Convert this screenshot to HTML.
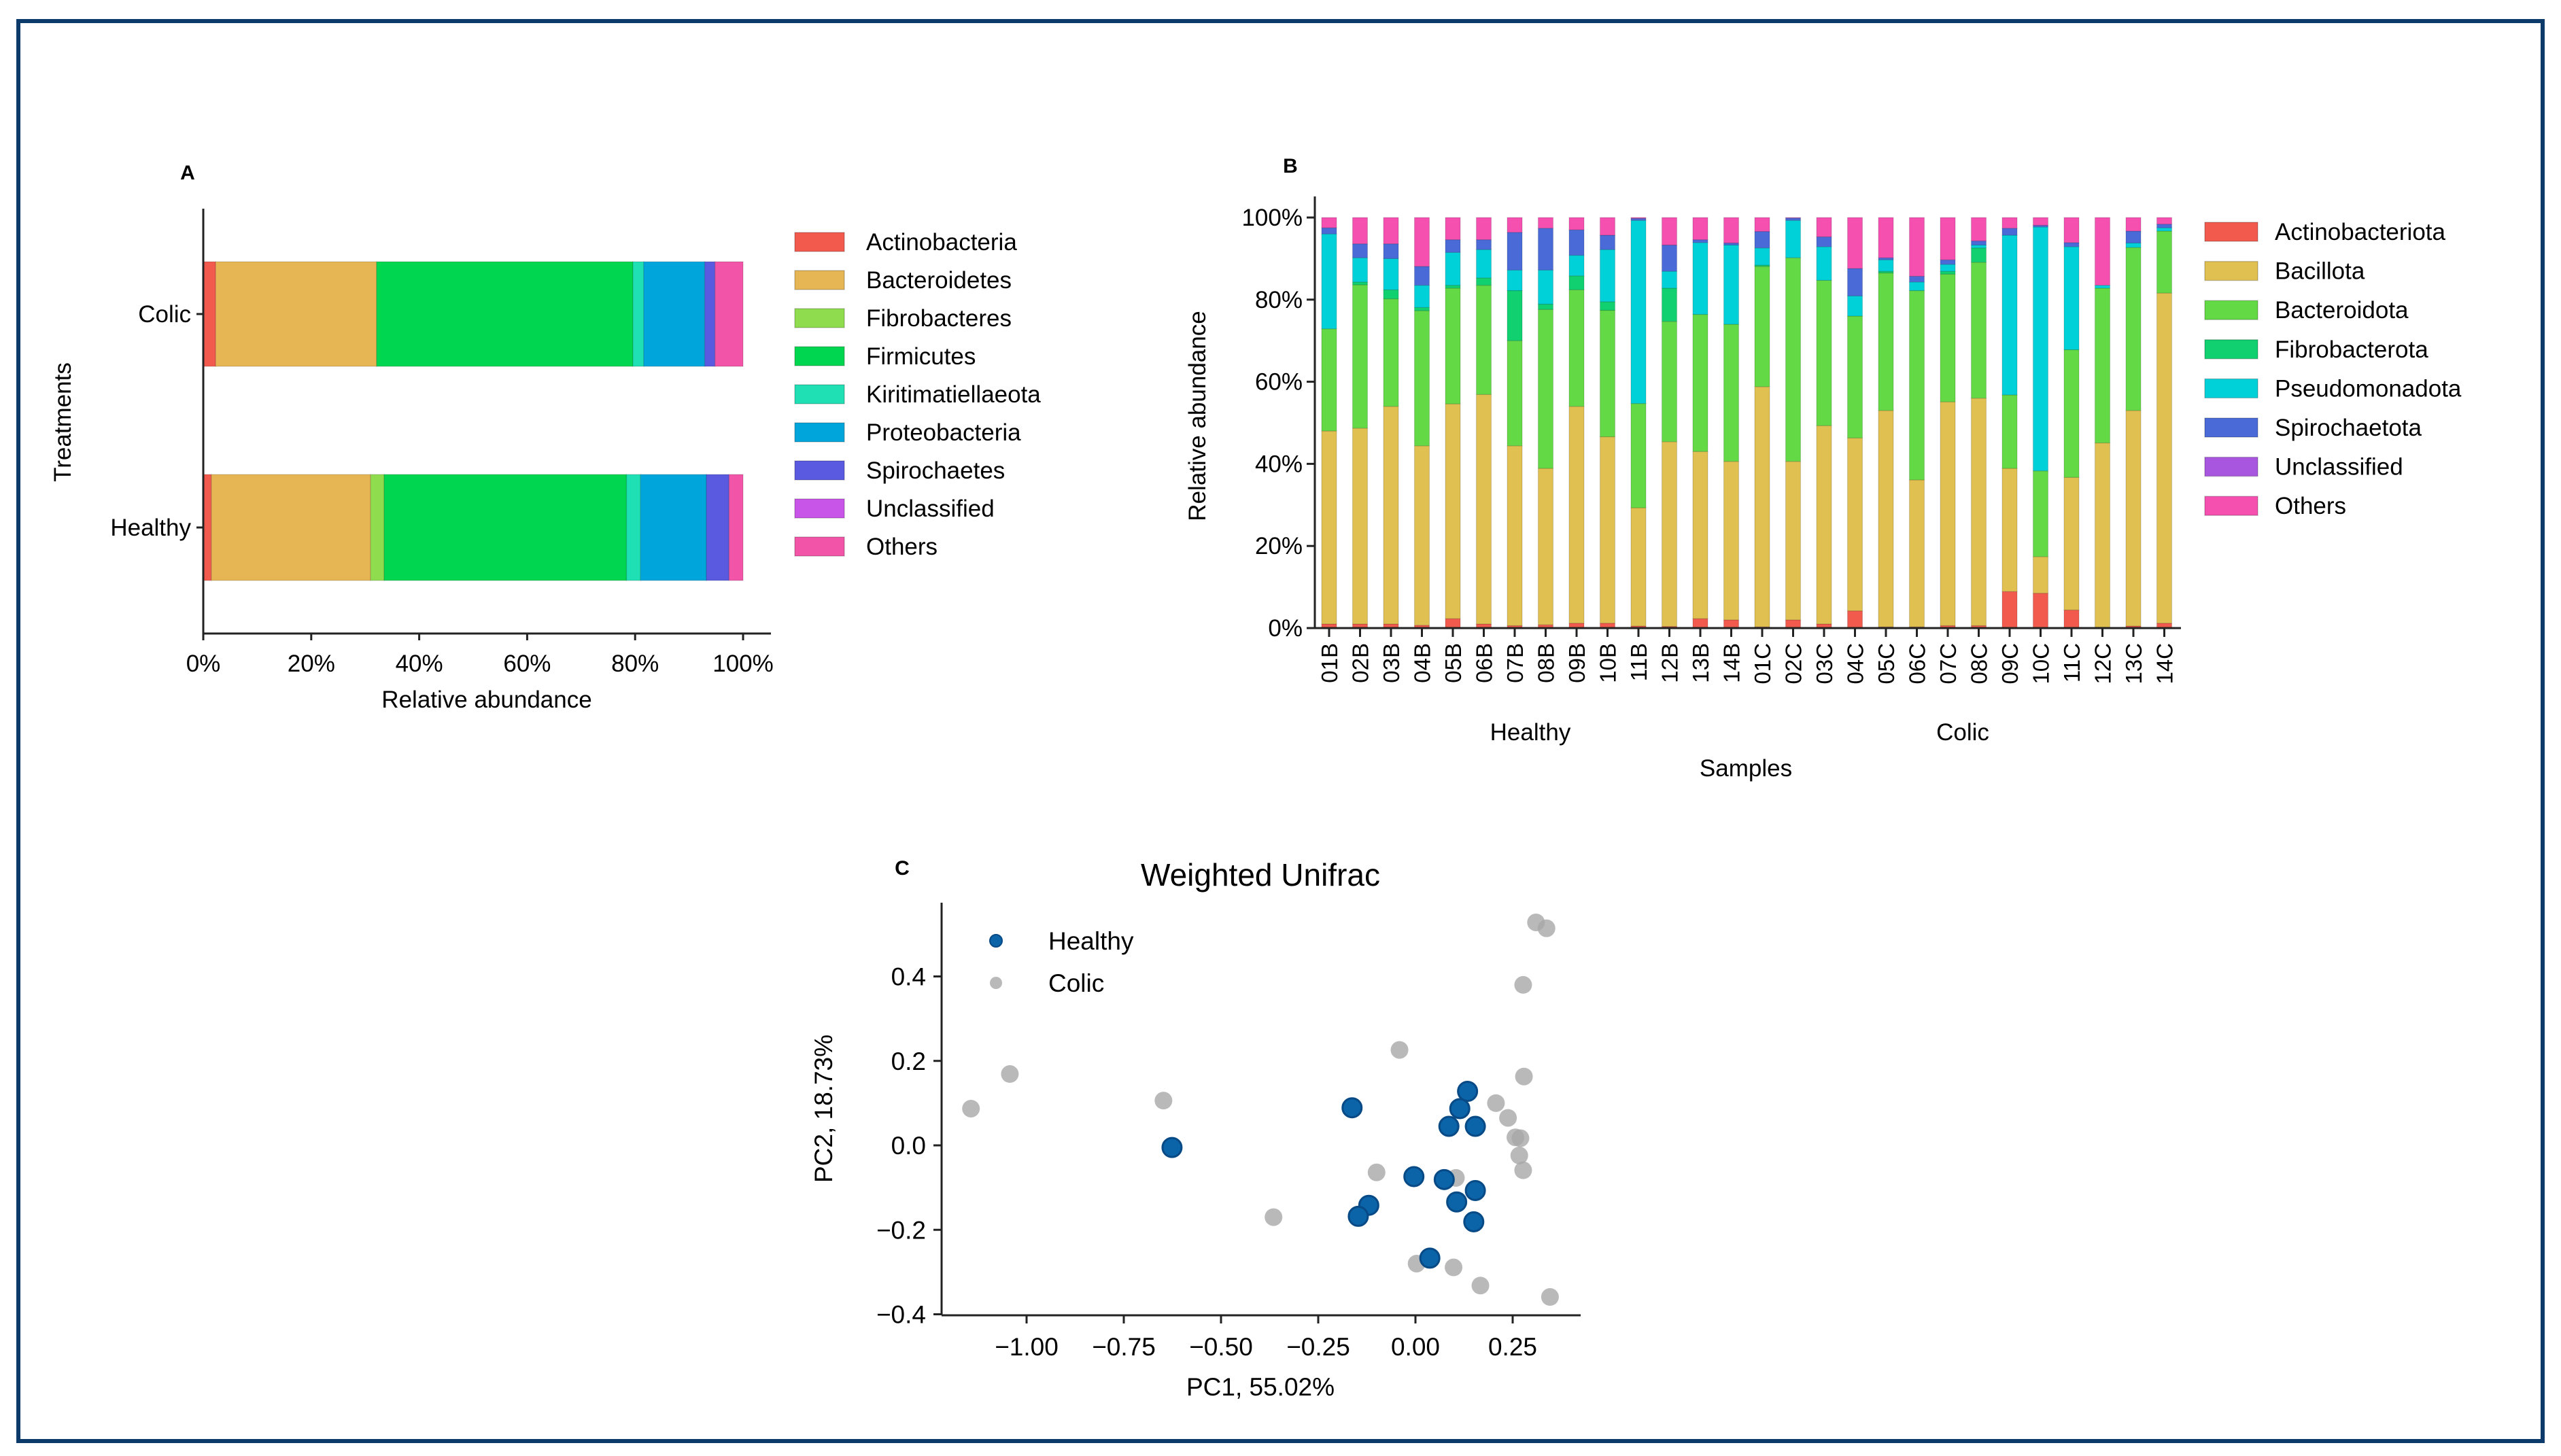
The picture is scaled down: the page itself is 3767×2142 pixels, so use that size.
<!DOCTYPE html>
<html><head><meta charset="utf-8"><style>
html,body{margin:0;padding:0;background:#fff}
svg{display:block;font-family:"Liberation Sans","DejaVu Sans",sans-serif}
</style></head><body>
<svg id="fig" width="3767" height="2142" viewBox="0 0 3767 2142" xmlns="http://www.w3.org/2000/svg">
<rect x="27" y="31" width="3713" height="2089" fill="none" stroke="#0b3a6b" stroke-width="6"/>
<g id="pa"></g>
<g id="pb"></g>
<g id="pc"></g>
</svg>
<script>
// ---------- Panel A data ----------
const aCategories = ["Colic","Healthy"];
const aTaxa = ["Actinobacteria","Bacteroidetes","Fibrobacteres","Firmicutes","Kiritimatiellaeota","Proteobacteria","Spirochaetes","Unclassified","Others"];
const aColic   = [2.3, 29.8, 0.0, 47.5, 2.0, 11.3, 1.9, 0.0, 5.2];
const aHealthy = [1.5, 29.5, 2.5, 44.9, 2.6, 12.2, 4.2, 0.0, 2.6];
const aTicks = [0,20,40,60,80,100];
// ---------- Panel B data ----------
const bSamples = ["01B","02B","03B","04B","05B","06B","07B","08B","09B","10B","11B","12B","13B","14B","01C","02C","03C","04C","05C","06C","07C","08C","09C","10C","11C","12C","13C","14C"];
const bTaxa = ["Actinobacteriota","Bacillota","Bacteroidota","Fibrobacterota","Pseudomonadota","Spirochaetota","Unclassified","Others"];
const bActino  = [1.0,1.0,1.0,0.7,2.3,1.0,0.6,0.8,1.2,1.2,0.5,0.4,2.3,2.0,0.3,2.0,1.0,4.2,0.3,0.3,0.6,0.6,8.9,8.5,4.4,0.2,0.5,1.2];
const bBacil   = [47.0,47.7,53.0,43.7,52.3,55.9,43.8,38.1,52.8,45.4,28.8,45.0,40.7,38.6,58.5,38.6,48.3,42.1,52.7,35.8,54.5,55.4,30.0,8.9,32.3,44.9,52.5,80.4];
const bBactd   = [24.9,34.9,26.2,32.9,28.2,26.6,25.6,38.7,28.4,30.8,25.4,29.3,33.4,33.4,29.3,49.6,35.4,29.7,33.5,46.1,31.1,33.1,17.9,20.9,31.1,37.7,39.7,15.1];
const bFibro   = [0.0,0.7,2.2,0.8,0.7,1.8,12.2,1.3,3.4,2.1,0.0,8.1,0.0,0.0,0.3,0.0,0.0,0.0,0.4,0.0,0.7,3.5,0.0,0.0,0.0,0.0,0.0,0.0];
const bPseudo  = [23.1,5.9,7.6,5.4,8.0,6.9,5.0,8.3,5.0,12.7,44.6,4.1,17.5,19.3,4.2,9.1,8.2,4.9,2.8,2.1,1.7,0.7,38.9,59.4,25.1,0.7,1.1,0.8];
const bSpiro   = [1.5,3.4,3.6,4.6,3.1,2.4,9.2,10.2,6.2,3.5,0.5,6.4,0.7,0.5,4.0,0.6,2.4,6.7,0.5,1.4,1.1,1.0,1.7,0.4,1.0,0.0,2.9,0.9];
const bUncl    = [0,0,0,0,0,0,0,0,0,0,0,0,0,0,0,0,0,0,0,0,0,0,0,0,0,0,0,0];
const bOthers  = [2.5,6.4,6.4,11.9,5.4,5.4,3.6,2.6,3.0,4.3,0.2,6.7,5.4,6.2,3.4,0.1,4.7,12.4,9.8,14.3,10.3,5.7,2.6,1.9,6.1,16.5,3.3,1.6];
const bTicks = [0,20,40,60,80,100];
// ---------- Panel C data ----------
const cHealthyX = [-0.163,-0.626,0.134,0.114,0.086,0.154,-0.004,0.074,0.154,0.106,-0.120,-0.147,0.150,0.037];
const cHealthyY = [0.089,-0.005,0.128,0.087,0.045,0.045,-0.074,-0.081,-0.107,-0.134,-0.142,-0.168,-0.181,-0.267];
const cColicX = [0.310,0.337,0.277,-0.041,0.279,-1.043,-1.143,-0.648,0.207,0.238,0.257,0.270,0.267,0.277,-0.100,0.104,-0.365,0.003,0.098,0.167,0.346];
const cColicY = [0.528,0.514,0.380,0.226,0.163,0.169,0.087,0.106,0.100,0.065,0.019,0.017,-0.024,-0.059,-0.064,-0.077,-0.170,-0.280,-0.289,-0.332,-0.359];
const cXTicks = [-1.00,-0.75,-0.50,-0.25,0.00,0.25];
const cYTicks = [-0.4,-0.2,0.0,0.2,0.4];

const NS="http://www.w3.org/2000/svg";
function mk(parent,tag,attrs,text){const e=document.createElementNS(NS,tag);for(const k in attrs)e.setAttribute(k,attrs[k]);if(text!==undefined)e.textContent=text;parent.appendChild(e);return e;}

// ================= PANEL A =================
(function(){
const g=document.getElementById('pa');
const aCol=["#f25a4e","#e6b655","#8fdc4f","#00d64f","#1fdfb5","#00a5dc","#5a5ae0","#c855e8","#f255a8"];
const x0=299,x1=1093; const xs=v=>x0+(x1-x0)*v/100;
const rows=[{y0:385,y1:539,vals:aColic,c:462},{y0:698,y1:854,vals:aHealthy,c:776}];
let t=mk(g,'text',{x:276,y:264,'font-size':30,'font-weight':'bold','text-anchor':'middle'},'A');

rows.forEach((r,ri)=>{let cum=0;r.vals.forEach((v,i)=>{if(v<=0)return;
 const e=mk(g,'rect',{x:xs(cum),y:r.y0,width:xs(cum+v)-xs(cum),height:r.y1-r.y0,fill:aCol[i],stroke:'rgba(0,0,0,0.12)','stroke-width':1.5});
 
 cum+=v;});
 mk(g,'line',{x1:x0-10,x2:x0,y1:r.c,y2:r.c,stroke:'#222','stroke-width':3});
 const l=mk(g,'text',{x:x0-18,y:r.c+12,'font-size':35,'text-anchor':'end'},aCategories[ri]);
 
});
mk(g,'line',{x1:x0,x2:x0,y1:307,y2:932,stroke:'#222','stroke-width':3});
mk(g,'line',{x1:x0,x2:1134,y1:932,y2:932,stroke:'#222','stroke-width':3});
aTicks.forEach(v=>{mk(g,'line',{x1:xs(v),x2:xs(v),y1:932,y2:942,stroke:'#222','stroke-width':3});
 const l=mk(g,'text',{x:xs(v),y:988,'font-size':35,'text-anchor':'middle'},v+'%');
 });
let xl=mk(g,'text',{x:716,y:1041,'font-size':35,'text-anchor':'middle'},'Relative abundance');

let yl=mk(g,'text',{x:0,y:0,'font-size':35,'text-anchor':'middle',transform:'translate(104,621) rotate(-90)'},'Treatments');

aTaxa.forEach((n,i)=>{const cy=356+56*i;
 const p=mk(g,'rect',{x:1169,y:cy-14,width:73,height:28,fill:aCol[i],stroke:'rgba(0,0,0,0.2)','stroke-width':1.5});
 
 const l=mk(g,'text',{x:1274,y:cy+12,'font-size':35},n);
 });
})();

// ================= PANEL B =================
(function(){
const g=document.getElementById('pb');
const bCol=["#f25a4e","#e0c050","#62d945","#10d070","#00d0d8","#4a6ad8","#a855e0","#f550b0"];
const series=[bActino,bBacil,bBactd,bFibro,bPseudo,bSpiro,bUncl,bOthers];
const y0=924,y100=320; const ys=v=>y0-(y0-y100)*v/100;
const ax=1934, bx0=1955, step=45.5, bw=22;
const xs=i=>bx0+step*i;
let t=mk(g,'text',{x:1898,y:254,'font-size':30,'font-weight':'bold','text-anchor':'middle'},'B');

bSamples.forEach((s,i)=>{let cum=0;series.forEach((arr,k)=>{const v=arr[i];if(v<=0)return;
 const e=mk(g,'rect',{x:xs(i)-bw/2,y:ys(cum+v),width:bw,height:ys(cum)-ys(cum+v),fill:bCol[k],stroke:'rgba(0,0,0,0.15)','stroke-width':1.2});
 
 cum+=v;});
 mk(g,'line',{x1:xs(i),x2:xs(i),y1:y0,y2:y0+13,stroke:'#222','stroke-width':3});
 const l=mk(g,'text',{x:0,y:0,'font-size':33,'text-anchor':'end',transform:`translate(${xs(i)+12},${y0+22}) rotate(-90)`},s);
 
});
mk(g,'line',{x1:ax,x2:ax,y1:289,y2:y0,stroke:'#222','stroke-width':3});
mk(g,'line',{x1:ax,x2:3208,y1:y0,y2:y0,stroke:'#222','stroke-width':3});
bTicks.forEach(v=>{mk(g,'line',{x1:ax-12,x2:ax,y1:ys(v),y2:ys(v),stroke:'#222','stroke-width':3});
 const l=mk(g,'text',{x:ax-18,y:ys(v)+12,'font-size':35,'text-anchor':'end'},v+'%');
 });
let yl=mk(g,'text',{x:0,y:0,'font-size':35,'text-anchor':'middle',transform:'translate(1773,612) rotate(-90)'},'Relative abundance');

let g1=mk(g,'text',{x:2251,y:1089,'font-size':35,'text-anchor':'middle'},'Healthy');

let g2=mk(g,'text',{x:2887,y:1089,'font-size':35,'text-anchor':'middle'},'Colic');

let xl=mk(g,'text',{x:2568,y:1142,'font-size':35,'text-anchor':'middle'},'Samples');

bTaxa.forEach((n,i)=>{const cy=341+57.6*i;
 const p=mk(g,'rect',{x:3243,y:cy-14,width:78,height:28,fill:bCol[i],stroke:'rgba(0,0,0,0.2)','stroke-width':1.5});
 
 const l=mk(g,'text',{x:3346,y:cy+12,'font-size':35},n);
 });
})();

// ================= PANEL C =================
(function(){
const g=document.getElementById('pc');
const xs=v=>2082+572*v, ys=v=>1685-621.25*v;
let t=mk(g,'text',{x:1327,y:1287,'font-size':30,'font-weight':'bold','text-anchor':'middle'},'C');

let ti=mk(g,'text',{x:1854,y:1303,'font-size':46,'text-anchor':'middle'},'Weighted Unifrac');

cColicX.forEach((x,i)=>{const c=mk(g,'circle',{cx:xs(x),cy:ys(cColicY[i]),r:13,fill:'#a8a8a8','fill-opacity':0.8});
 });
cHealthyX.forEach((x,i)=>{const c=mk(g,'circle',{cx:xs(x),cy:ys(cHealthyY[i]),r:14,fill:'#0b63a8',stroke:'#074a85','stroke-width':3});
 });
mk(g,'line',{x1:1385,x2:1385,y1:1328,y2:1935,stroke:'#222','stroke-width':3});
mk(g,'line',{x1:1385,x2:2325,y1:1935,y2:1935,stroke:'#222','stroke-width':3});
cXTicks.forEach(v=>{mk(g,'line',{x1:xs(v),x2:xs(v),y1:1935,y2:1947,stroke:'#222','stroke-width':3});
 const l=mk(g,'text',{x:xs(v),y:1994,'font-size':37,'text-anchor':'middle'},(v<0?'\u2212':'')+Math.abs(v).toFixed(2));
 });
cYTicks.forEach(v=>{mk(g,'line',{x1:1373,x2:1385,y1:ys(v),y2:ys(v),stroke:'#222','stroke-width':3});
 const l=mk(g,'text',{x:1362,y:ys(v)+13,'font-size':37,'text-anchor':'end'},(v<0?'\u2212':'')+Math.abs(v).toFixed(1));
 });
let xl=mk(g,'text',{x:1854,y:2053,'font-size':37,'text-anchor':'middle'},'PC1, 55.02%');

let yl=mk(g,'text',{x:0,y:0,'font-size':37,'text-anchor':'middle',transform:'translate(1224,1631) rotate(-90)'},'PC2, 18.73%');

const m1=mk(g,'circle',{cx:1465,cy:1384,r:9,fill:'#0b63a8',stroke:'#074a85','stroke-width':2});

const l1=mk(g,'text',{x:1542,y:1397,'font-size':37},'Healthy');

const m2=mk(g,'circle',{cx:1465,cy:1446,r:9,fill:'#a8a8a8','fill-opacity':0.8});

const l2=mk(g,'text',{x:1542,y:1459,'font-size':37},'Colic');

})();
</script>
</body></html>
